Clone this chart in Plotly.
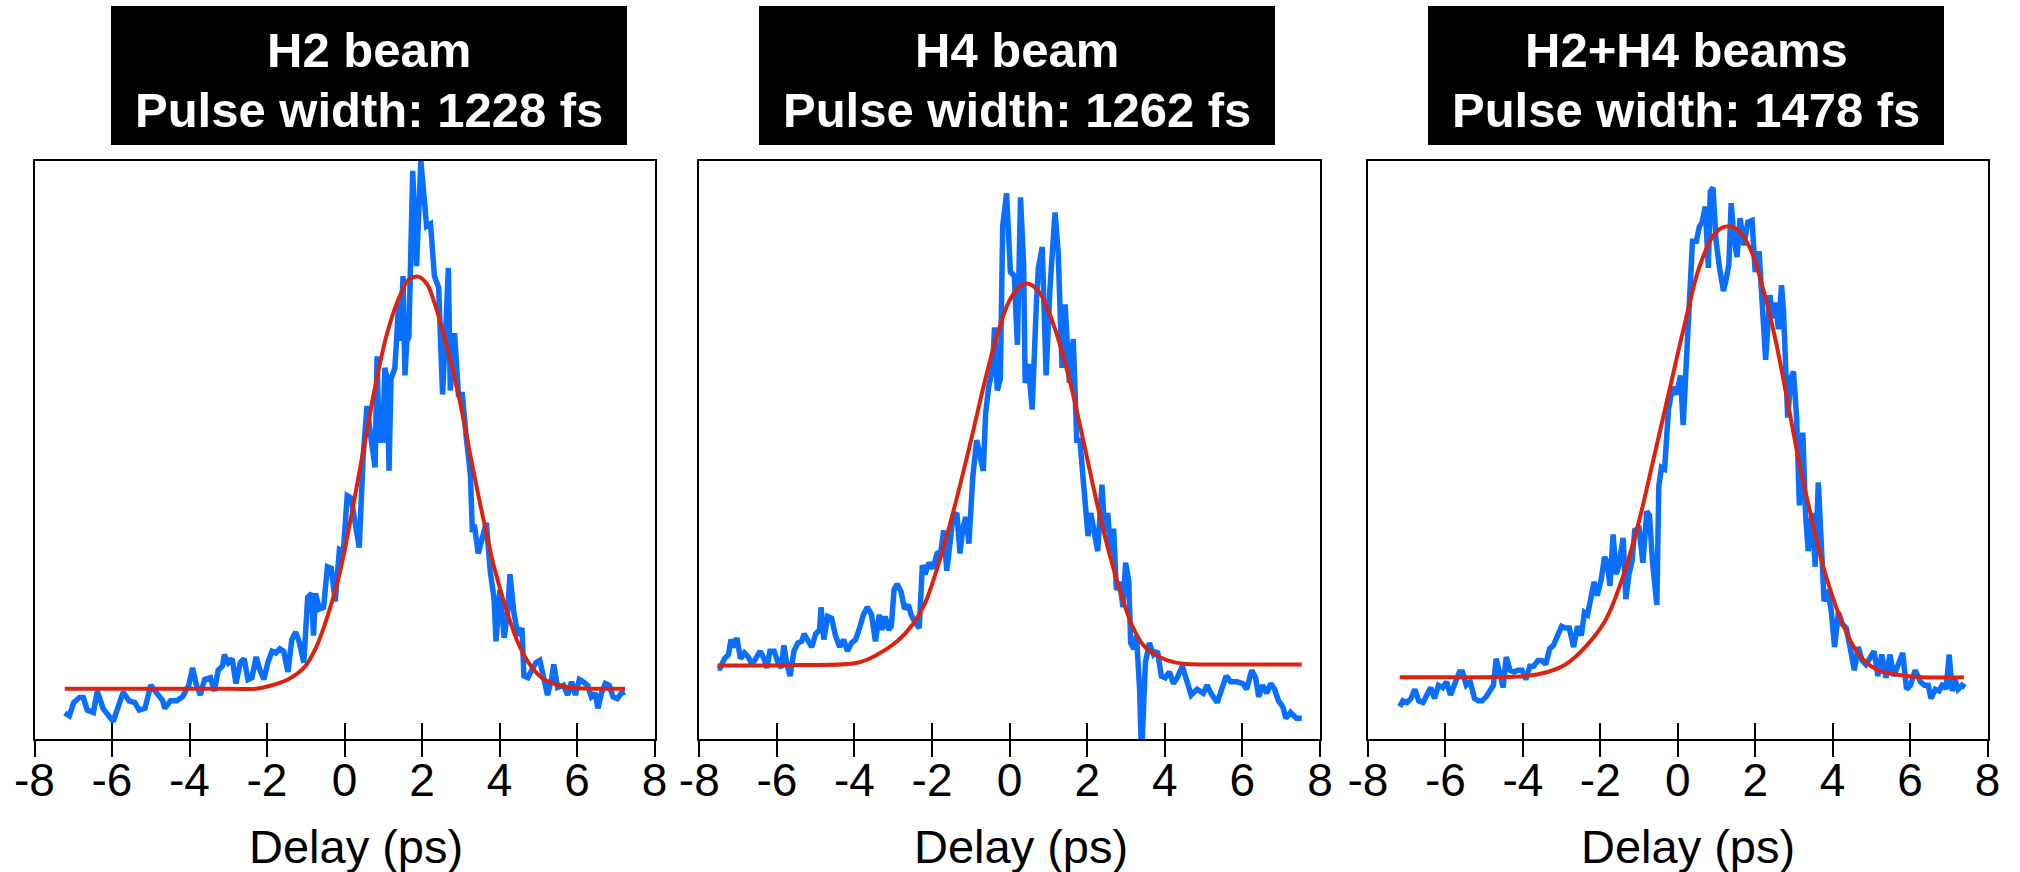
import plotly.graph_objects as go

# ---------------- data (delay in ps, signal in arbitrary units 0-100) ----------------
h2_x = [-7.22, -7.10, -6.99, -6.84, -6.74, -6.64, -6.48, -6.38, -6.23, -6.12, -5.97, -5.82, -5.71, -5.56,
        -5.41, -5.30, -5.15, -5.00, -4.84, -4.69, -4.64, -4.49, -4.33, -4.18, -4.02, -3.92, -3.82, -3.72,
        -3.61, -3.46, -3.36, -3.26, -3.15, -3.10, -3.00, -2.90, -2.80, -2.69, -2.59, -2.49, -2.39, -2.28,
        -2.18, -2.08, -1.98, -1.87, -1.77, -1.67, -1.57, -1.46, -1.36, -1.26, -1.16, -1.05, -0.95, -0.85,
        -0.80, -0.75, -0.65, -0.54, -0.44, -0.34, -0.24, -0.13, -0.03, 0.07, 0.17, 0.28, 0.38, 0.48, 0.58,
        0.69, 0.79, 0.84, 0.89, 0.99, 1.04, 1.10, 1.15, 1.20, 1.30, 1.40, 1.45, 1.51, 1.56, 1.61, 1.66,
        1.76, 1.86, 1.97, 2.07, 2.12, 2.22, 2.32, 2.43, 2.53, 2.63, 2.68, 2.73, 2.84, 2.94, 3.04, 3.14,
        3.25, 3.30, 3.35, 3.45, 3.55, 3.66, 3.76, 3.86, 3.91, 4.01, 4.12, 4.22, 4.27, 4.37, 4.48, 4.58,
        4.63, 4.73, 4.83, 4.94, 5.04, 5.14, 5.24, 5.35, 5.40, 5.50, 5.65, 5.76, 5.86, 5.96, 6.06, 6.16,
        6.27, 6.37, 6.47, 6.54, 6.63, 6.73, 6.83, 6.93, 7.04, 7.14, 7.24]
h2_y = [4.5, 4.0, 6.3, 7.2, 7.2, 5.0, 4.6, 8.3, 5.3, 4.3, 3.0, 6.0, 8.1, 6.6,
        6.3, 5.0, 5.3, 9.3, 7.9, 6.6, 5.3, 6.6, 6.6, 7.3, 9.3, 12.3, 9.3, 7.6,
        10.3, 10.6, 8.3, 11.9, 12.6, 14.6, 13.2, 13.9, 9.6, 13.2, 13.9, 10.3, 10.6, 14.2,
        11.9, 10.3, 13.2, 15.2, 14.9, 15.6, 15.2, 11.6, 17.2, 18.5, 16.6, 13.2, 24.5, 25.2,
        17.9, 25.2, 22.5, 22.8, 29.8, 29.5, 23.8, 32.8, 32.5, 42.1, 41.7, 36.4, 33.1, 48.7, 57.6,
        51.7, 47.0, 66.2, 51.7, 51.7, 64.2, 62.3, 46.4, 62.3, 64.2, 75.5, 68.9, 80.1, 62.9, 68.9, 69.5,
        98.3, 81.8, 100.0, 93.4, 88.7, 89.1, 80.1, 78.1, 59.6, 73.5, 81.5, 60.3, 70.2, 59.6, 59.6, 52.3,
        45.7, 35.8, 37.1, 32.1, 35.1, 37.4, 29.1, 24.2, 16.9, 25.8, 17.5, 22.5, 28.5, 21.9, 17.9, 19.2,
        10.9, 10.6, 11.9, 13.2, 13.6, 10.6, 7.6, 10.6, 12.9, 8.9, 9.3, 7.6, 9.9, 7.6, 10.3, 9.9,
        9.3, 7.3, 7.9, 5.3, 7.9, 9.6, 9.3, 7.3, 7.0, 7.9, 8.1]
h2_fit_x = [-7.22, -5.00, -3.00, -2.28, -1.87, -1.46, -1.05, -0.75, -0.44, -0.13, 0.17, 0.48, 0.79,
            1.10, 1.40, 1.66, 1.89, 2.12, 2.32, 2.63, 2.94, 3.25, 3.55, 3.86, 4.17, 4.48, 4.78,
            5.09, 5.40, 5.81, 6.32, 7.24]
h2_fit_y = [8.7, 8.7, 8.7, 8.7, 9.3, 10.3, 12.3, 15.6, 21.2, 28.5, 38.4, 49.7, 60.9,
            70.2, 76.2, 79.5, 80.0, 78.8, 75.5, 68.2, 59.6, 49.0, 39.1, 29.8, 22.5, 16.6, 12.9,
            10.6, 9.6, 8.9, 8.7, 8.7]

h4_x = [-7.53, -7.46, -7.35, -7.25, -7.18, -7.10, -7.03, -6.94, -6.84, -6.74, -6.64, -6.53, -6.43,
        -6.33, -6.26, -6.18, -6.07, -5.97, -5.89, -5.82, -5.75, -5.66, -5.56, -5.46, -5.36, -5.30,
        -5.20, -5.10, -5.00, -4.90, -4.86, -4.79, -4.69, -4.59, -4.49, -4.38, -4.28, -4.18, -4.08,
        -3.97, -3.87, -3.77, -3.67, -3.56, -3.46, -3.36, -3.29, -3.21, -3.12, -3.05, -2.98, -2.90,
        -2.80, -2.71, -2.61, -2.54, -2.44, -2.33, -2.25, -2.18, -2.08, -1.98, -1.87, -1.77, -1.70,
        -1.62, -1.54, -1.46, -1.36, -1.28, -1.21, -1.13, -1.05, -0.95, -0.85, -0.75, -0.68, -0.62,
        -0.54, -0.44, -0.39, -0.32, -0.24, -0.18, -0.08, 0.02, 0.12, 0.20, 0.28, 0.36, 0.40, 0.48,
        0.58, 0.69, 0.74, 0.84, 0.94, 1.04, 1.17, 1.25, 1.35, 1.43, 1.54, 1.64, 1.73, 1.81, 1.92,
        2.02, 2.09, 2.17, 2.27, 2.38, 2.45, 2.53, 2.60, 2.68, 2.75, 2.84, 2.92, 2.99, 3.07, 3.12,
        3.20, 3.27, 3.35, 3.40, 3.50, 3.60, 3.71, 3.81, 3.91, 4.01, 4.12, 4.22, 4.32, 4.45, 4.56,
        4.68, 4.83, 4.99, 5.09, 5.19, 5.35, 5.45, 5.58, 5.70, 5.86, 6.01, 6.11, 6.24, 6.34, 6.42,
        6.52, 6.63, 6.73, 6.83, 6.93, 7.04, 7.12, 7.24, 7.39, 7.53]
h4_y = [12.3, 12.3, 13.9, 14.6, 17.2, 15.9, 17.5, 13.9, 14.9, 14.2, 12.9, 13.9, 15.2,
        13.9, 12.3, 15.2, 15.2, 13.2, 12.3, 16.2, 13.2, 10.9, 15.2, 16.6, 16.9, 18.2,
        17.2, 15.9, 18.2, 18.9, 22.8, 17.2, 21.2, 20.9, 17.9, 15.9, 17.2, 15.2, 16.6,
        17.2, 19.2, 21.5, 22.8, 21.5, 16.9, 21.5, 18.9, 21.2, 18.9, 19.5, 25.8, 26.8,
        25.5, 22.5, 23.2, 21.5, 20.2, 19.2, 30.1, 28.5, 30.5, 29.5, 32.1, 32.5, 36.1,
        29.1, 33.8, 38.4, 39.1, 32.1, 36.4, 38.4, 33.8, 45.4, 51.7, 49.0, 46.4, 56.3,
        60.9, 64.2, 71.2, 60.3, 62.3, 88.7, 94.4, 80.8, 80.1, 68.2, 93.7, 82.1, 61.6, 64.9,
        57.0, 75.5, 81.5, 85.1, 62.9, 78.1, 91.1, 84.4, 64.2, 75.2, 61.6, 69.2, 51.7, 51.7, 43.7,
        35.1, 39.1, 36.4, 32.5, 44.0, 35.8, 39.1, 32.1, 36.4, 25.8, 27.2, 22.8, 30.5, 27.2, 16.6,
        15.6, 17.9, 8.6, -3.0, 13.2, 16.6, 14.6, 15.2, 10.9, 10.6, 11.6, 9.6, 10.6, 12.6, 9.9,
        7.6, 8.6, 7.9, 9.3, 7.9, 6.3, 8.6, 10.9, 9.9, 9.9, 9.6, 8.6, 11.9, 10.6, 7.3,
        9.3, 7.9, 9.6, 8.6, 6.6, 5.6, 3.6, 4.6, 3.6, 3.6]
h4_fit_x = [-7.53, -5.46, -3.92, -3.41, -2.90, -2.49, -2.18, -1.87, -1.57, -1.26, -0.95, -0.65,
            -0.34, -0.03, 0.23, 0.46, 0.74, 0.99, 1.30, 1.61, 1.92, 2.22, 2.53, 2.84, 3.14, 3.45,
            3.76, 4.07, 4.48, 5.29, 7.53]
h4_fit_y = [12.7, 12.8, 13.2, 14.6, 16.9, 19.9, 23.5, 29.5, 36.4, 44.4, 53.0, 61.6,
            69.5, 75.5, 78.1, 78.8, 77.5, 74.2, 68.2, 60.3, 51.0, 41.7, 33.1, 25.8, 19.9, 16.2,
            14.6, 13.6, 13.0, 12.9, 12.9]

both_x = [-7.18, -7.10, -6.99, -6.89, -6.79, -6.69, -6.58, -6.48, -6.38, -6.28, -6.18, -6.07, -5.97,
          -5.87, -5.77, -5.64, -5.56, -5.46, -5.36, -5.25, -5.15, -5.05, -4.95, -4.84, -4.76, -4.69,
          -4.59, -4.51, -4.43, -4.33, -4.23, -4.13, -4.02, -3.92, -3.82, -3.72, -3.61, -3.51, -3.41,
          -3.31, -3.21, -3.10, -3.00, -2.90, -2.80, -2.69, -2.59, -2.49, -2.41, -2.33, -2.23, -2.16,
          -2.08, -1.98, -1.89, -1.82, -1.75, -1.67, -1.59, -1.52, -1.41, -1.34, -1.26, -1.18, -1.11,
          -1.00, -0.90, -0.80, -0.73, -0.65, -0.54, -0.49, -0.42, -0.34, -0.24, -0.13, -0.03, 0.07,
          0.14, 0.23, 0.30, 0.38, 0.48, 0.56, 0.63, 0.71, 0.79, 0.84, 0.91, 0.99, 1.08, 1.18, 1.25,
          1.32, 1.38, 1.45, 1.53, 1.61, 1.71, 1.81, 1.92, 2.00, 2.10, 2.17, 2.27, 2.38, 2.45, 2.53,
          2.60, 2.68, 2.73, 2.84, 2.92, 2.99, 3.07, 3.14, 3.23, 3.30, 3.37, 3.47, 3.55, 3.63, 3.71,
          3.78, 3.86, 3.96, 4.05, 4.15, 4.25, 4.35, 4.45, 4.56, 4.66, 4.76, 4.86, 4.97, 5.07, 5.17,
          5.27, 5.38, 5.48, 5.58, 5.68, 5.81, 5.91, 6.01, 6.13, 6.27, 6.37, 6.47, 6.54, 6.65, 6.75,
          6.85, 6.93, 7.01, 7.09, 7.16, 7.24, 7.34, 7.42]
both_y = [5.6, 6.6, 6.3, 7.0, 8.6, 6.6, 6.3, 7.6, 8.9, 7.0, 9.3, 8.9, 9.9,
          7.6, 9.3, 11.6, 11.6, 9.3, 9.9, 7.0, 6.6, 6.6, 7.3, 8.6, 9.3, 13.9,
          10.6, 8.9, 14.2, 11.9, 11.6, 11.9, 11.9, 10.3, 12.6, 12.6, 13.6, 13.6, 12.9,
          15.6, 16.2, 17.9, 19.5, 19.2, 19.2, 15.9, 19.5, 17.9, 21.9, 21.5, 25.2, 27.2,
          24.8, 27.5, 31.5, 30.5, 26.5, 35.4, 28.5, 30.1, 34.8, 24.2, 28.5, 30.8, 36.1,
          36.4, 30.5, 39.4, 38.7, 30.5, 23.2, 43.7, 47.0, 46.7, 57.0, 60.9, 59.6, 62.9,
          54.3, 66.2, 73.5, 86.1, 86.1, 88.7, 89.4, 92.1, 81.5, 94.7, 95.4, 86.1, 81.5, 77.5, 79.5,
          82.1, 92.7, 86.8, 83.4, 90.1, 85.4, 89.4, 89.7, 80.8, 84.4, 76.8, 65.6, 76.8, 72.8, 75.5,
          70.9, 78.5, 74.2, 55.6, 62.3, 63.6, 55.6, 40.4, 53.0, 39.1, 32.5, 39.1, 29.8, 44.4, 30.5,
          23.8, 25.8, 22.5, 15.9, 21.9, 19.9, 19.2, 15.9, 11.9, 15.9, 13.6, 12.9, 13.9, 15.2, 10.9,
          14.6, 10.6, 14.6, 10.9, 12.6, 14.9, 8.6, 9.3, 11.9, 9.9, 9.3, 9.3, 7.0, 8.6, 8.3,
          9.6, 8.6, 14.6, 8.3, 10.3, 8.6, 9.3, 8.9]
both_fit_x = [-7.18, -4.95, -3.92, -3.41, -2.90, -2.39, -1.87, -1.46, -1.05, -0.65, -0.24, 0.17,
              0.58, 0.99, 1.33, 1.61, 1.92, 2.22, 2.53, 2.84, 3.14, 3.45, 3.76, 4.07, 4.37, 4.68,
              4.99, 5.29, 5.81, 6.32, 7.39]
both_fit_y = [10.7, 10.7, 10.9, 11.5, 12.9, 15.9, 20.5, 27.2, 36.4, 47.7, 59.6, 71.5,
              82.1, 87.7, 88.7, 87.7, 84.1, 77.5, 68.9, 58.3, 47.7, 38.4, 29.8, 23.2, 18.2, 14.6,
              12.6, 11.6, 11.0, 10.7, 10.7]

beam_names = ["H2 beam", "H4 beam", "H2+H4 beams"]
pulse_widths_fs = [1228, 1262, 1478]
tick_vals = [-8, -6, -4, -2, 0, 2, 4, 6, 8]
tick_text = ["-8", "-6", "-4", "-2", "0", "2", "4", "6", "8"]
x_label = "Delay (ps)"

series = [(h2_x, h2_y, h2_fit_x, h2_fit_y),
          (h4_x, h4_y, h4_fit_x, h4_fit_y),
          (both_x, both_y, both_fit_x, both_fit_y)]

# ---------------- layout geometry (pixels of a 2020x872 page) ----------------
W, H = 2020, 872
plot_px = [(34.5, 654.5), (699.3, 1320.0), (1368.0, 1987.5)]
plot_top, plot_bottom = 161.0, 739.0
box_px = [(111, 627), (759, 1275), (1428, 1944)]
box_top, box_bottom = 6, 145
xlabel_cx = [355.6, 1020.5, 1688.0]

BLUE = "#0A6EFF"
RED = "#DC2310"
FONT = "Liberation Sans, Arial, Helvetica, sans-serif"

fig = go.Figure()
layout = dict(width=W, height=H,
              margin=dict(l=0, r=0, t=0, b=0, pad=0, autoexpand=False),
              paper_bgcolor="white", plot_bgcolor="white", showlegend=False,
              font=dict(family=FONT, color="black"))
shapes, annotations = [], []

for i, (bx, by, fx, fy) in enumerate(series):
    n = i + 1
    xa = "x" if n == 1 else f"x{n}"
    ya = "y" if n == 1 else f"y{n}"
    fig.add_trace(go.Scatter(x=bx, y=by, mode="lines", xaxis=xa, yaxis=ya,
                             line=dict(color=BLUE, width=5.5), hoverinfo="skip"))
    fig.add_trace(go.Scatter(x=fx, y=fy, mode="lines", xaxis=xa, yaxis=ya,
                             line=dict(color=RED, width=4, shape="spline", smoothing=1.0),
                             hoverinfo="skip"))
    # overlay axis that carries the outward half of each tick
    ov = f"x{n + 3}"
    fig.add_trace(go.Scatter(x=[None], y=[None], mode="lines", xaxis=ov, yaxis=ya,
                             hoverinfo="skip"))

    x0, x1 = plot_px[i]
    dom_x = [x0 / W, x1 / W]
    dom_y = [1 - plot_bottom / H, 1 - plot_top / H]
    layout[f"xaxis{n}"] = dict(domain=dom_x, range=[-8, 8], anchor=ya, automargin=False,
                               tickmode="array", tickvals=tick_vals, ticktext=tick_text,
                               ticks="inside", ticklen=16, tickwidth=2, tickcolor="black",
                               showline=True, linewidth=2, linecolor="black", mirror=True,
                               showgrid=False, zeroline=False,
                               tickfont=dict(family=FONT, size=46, color="black"))
    layout[f"yaxis{n}"] = dict(domain=dom_y, range=[0, 100], anchor=xa, automargin=False,
                               showline=True, linewidth=2, linecolor="black", mirror=True,
                               showticklabels=False, ticks="", showgrid=False, zeroline=False)
    layout[f"xaxis{n + 3}"] = dict(overlaying=xa, anchor=ya, range=[-8, 8], automargin=False,
                                   tickmode="array", tickvals=tick_vals,
                                   ticks="outside", ticklen=17, tickwidth=2, tickcolor="black",
                                   showticklabels=False, showline=False, showgrid=False,
                                   zeroline=False)

    # black title box
    b0, b1 = box_px[i]
    shapes.append(dict(type="rect", xref="paper", yref="paper",
                       x0=b0 / W, x1=b1 / W, y0=1 - box_bottom / H, y1=1 - box_top / H,
                       fillcolor="black", line=dict(width=0), layer="above"))
    cx = (b0 + b1) / 2 / W
    annotations.append(dict(text=beam_names[i], x=cx, y=1 - 50 / H, xref="paper", yref="paper",
                            xanchor="center", yanchor="middle", showarrow=False,
                            font=dict(family=FONT, size=49, color="white", weight="bold")))
    annotations.append(dict(text=f"Pulse width: {pulse_widths_fs[i]} fs", x=cx, y=1 - 110 / H,
                            xref="paper", yref="paper", xanchor="center", yanchor="middle",
                            showarrow=False,
                            font=dict(family=FONT, size=49, color="white", weight="bold")))
    annotations.append(dict(text=x_label, x=xlabel_cx[i] / W, y=1 - 846 / H,
                            xref="paper", yref="paper", xanchor="center", yanchor="middle",
                            showarrow=False, font=dict(family=FONT, size=47, color="black")))

layout["shapes"] = shapes
layout["annotations"] = annotations
fig.update_layout(**layout)
fig.write_html("out.html")
